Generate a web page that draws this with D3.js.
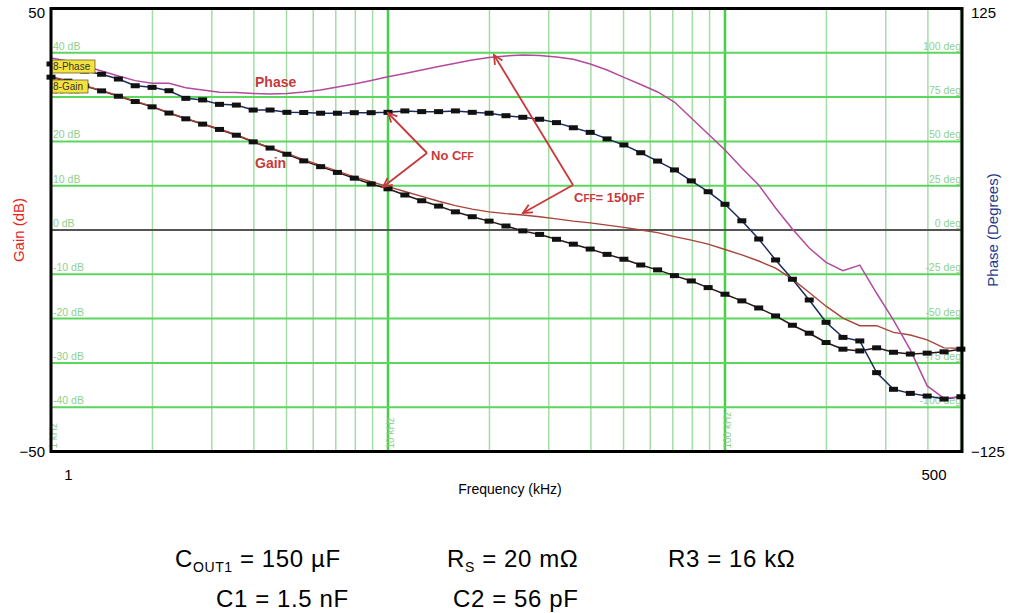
<!DOCTYPE html>
<html>
<head>
<meta charset="utf-8">
<script src="https://cdn.jsdelivr.net/npm/d3@7"></script>
<style>
  body { margin: 0; background: #fff; }
  text { font-family: "Liberation Sans", Arial, sans-serif; }
</style>
</head>
<body>
<div id="chart"></div>
<script>
// frequency points (kHz), 20 per decade
let freqs = [1.000, 1.122, 1.259, 1.413, 1.585, 1.778, 1.995, 2.239, 2.512, 2.818,
  3.162, 3.548, 3.981, 4.467, 5.012, 5.623, 6.310, 7.079, 7.943, 8.913,
  10.00, 11.22, 12.59, 14.13, 15.85, 17.78, 19.95, 22.39, 25.12, 28.18,
  31.62, 35.48, 39.81, 44.67, 50.12, 56.23, 63.10, 70.79, 79.43, 89.13,
  100.0, 112.2, 125.9, 141.3, 158.5, 177.8, 199.5, 223.9, 251.2, 281.8,
  316.2, 354.8, 398.1, 446.7, 501.2];

// gain (dB), no CFF
let gainNoCff = [34.5, 33.6, 32.5, 31.4, 30.2, 29.0, 27.8, 26.4, 25.1, 23.9,
  22.7, 21.4, 19.9, 18.5, 17.1, 15.6, 14.3, 13.0, 11.7, 10.4,
  9.3, 7.9, 6.6, 5.4, 4.1, 3.0, 2.0, 0.9, -0.2, -1.0,
  -2.1, -3.2, -4.3, -5.5, -6.6, -7.9, -9.0, -10.3, -11.5, -13.0,
  -14.5, -16.0, -17.6, -19.4, -21.5, -23.3, -25.4, -26.9, -27.3, -26.6,
  -27.6, -28.0, -27.8, -27.5, -26.9];

// phase (deg), no CFF
let phaseNoCff = [93.7, 92.0, 89.7, 87.9, 85.2, 81.4, 80.5, 78.6, 74.3, 73.4,
  70.9, 70.5, 67.7, 67.7, 66.4, 66.3, 65.9, 65.9, 66.2, 66.2,
  66.4, 67.2, 66.8, 66.8, 67.2, 66.4, 65.9, 64.5, 63.6, 62.5,
  60.6, 57.7, 55.1, 51.4, 48.0, 43.6, 38.9, 33.9, 27.7, 21.6,
  14.5, 5.2, -5.1, -16.9, -27.8, -39.5, -52.1, -60.6, -62.6, -80.5,
  -89.9, -92.2, -93.7, -95.4, -94.1];

// gain (dB), CFF = 150 pF
let gainCff = [34.6, 33.7, 32.6, 31.5, 30.3, 29.1, 27.9, 26.5, 25.2, 24.0,
  22.8, 21.5, 20.0, 18.6, 17.3, 15.9, 14.6, 13.3, 12.0, 10.9,
  9.8, 8.7, 7.6, 6.5, 5.5, 4.7, 4.1, 3.7, 3.4, 3.0,
  2.5, 2.0, 1.6, 1.1, 0.6, 0.0, -0.6, -1.5, -2.3, -3.2,
  -4.4, -5.6, -7.0, -8.6, -11.1, -14.1, -17.2, -19.9, -21.6, -21.6,
  -23.1, -23.7, -24.8, -26.6, -26.7];

// phase (deg), CFF = 150 pF
let phaseCff = [97.1, 95.4, 92.6, 89.7, 86.9, 84.3, 82.8, 82.8, 80.3, 79.0,
  77.7, 77.6, 77.1, 76.7, 77.1, 77.9, 79.0, 80.7, 82.4, 84.4,
  86.5, 88.3, 90.3, 92.3, 94.1, 95.9, 97.3, 98.2, 98.8, 98.5,
  97.6, 96.3, 93.7, 90.3, 86.1, 82.1, 77.9, 72.2, 63.2, 54.2,
  45.1, 35.0, 25.4, 12.4, 0.6, -10.2, -18.3, -23.0, -19.8, -35.7,
  -50.8, -67.7, -88.0, -95.0, -94.1];

let gainTicks = [-40, -30, -20, -10, 0, 10, 20, 30, 40];
let phaseTicks = [-100, -75, -50, -25, 0, 25, 50, 75, 100];
let decadeLabels = [[1, "1 kHz"], [10, "10 kHz"], [100, "100 kHz"]];

let width = 1011, height = 613;
let pLeft = 51, pRight = 962, pTop = 8.5, pBottom = 451.5;

let svg = d3.select("#chart").append("svg")
  .attr("width", width)
  .attr("height", height);

let x = d3.scaleLog().domain([1, 505]).range([pLeft, pRight]);
let yGain = d3.scaleLinear().domain([-50, 50]).range([pBottom, pTop]);
let yPhase = d3.scaleLinear().domain([-125, 125]).range([pBottom, pTop]);

let grid = svg.append("g");

// vertical grid, 1-9 per decade
let minor = [];
[1, 10, 100].forEach(d => { for (let i = 2; i <= 9; i++) if (d * i < 505) minor.push(d * i); });
grid.selectAll(".vminor")
  .data(minor.filter(d => d != 10 && d != 100))
  .enter().append("line")
  .attr("x1", d => x(d)).attr("x2", d => x(d))
  .attr("y1", pTop).attr("y2", pBottom)
  .attr("stroke", "#a4dda4")
  .attr("stroke-width", 1.5);

grid.selectAll(".vmajor")
  .data([10, 100])
  .enter().append("line")
  .attr("x1", d => x(d)).attr("x2", d => x(d))
  .attr("y1", pTop).attr("y2", pBottom)
  .attr("stroke", "#48cf48")
  .attr("stroke-width", 2.5);

// horizontal grid
grid.selectAll(".hline")
  .data(gainTicks)
  .enter().append("line")
  .attr("x1", pLeft).attr("x2", pRight)
  .attr("y1", d => yGain(d)).attr("y2", d => yGain(d))
  .attr("stroke", d => d == 0 ? "#555" : "#5cd65c")
  .attr("stroke-width", 2);

// in-plot grid labels
grid.selectAll(".dblab")
  .data(gainTicks)
  .enter().append("text")
  .attr("x", pLeft + 2)
  .attr("y", d => yGain(d) - 3)
  .attr("fill", "#8fd08f")
  .style("font-size", "10.5px")
  .text(d => d + " dB");

grid.selectAll(".deglab")
  .data(phaseTicks)
  .enter().append("text")
  .attr("x", pRight - 1)
  .attr("y", d => yPhase(d) - 3)
  .attr("fill", "#8fd08f")
  .style("font-size", "10.5px")
  .style("text-anchor", "end")
  .text(d => d + " deg");

grid.selectAll(".khz")
  .data(decadeLabels)
  .enter().append("text")
  .attr("transform", d => "translate(" + (x(d[0]) + 6) + "," + (pBottom - 3) + ") rotate(-90)")
  .attr("fill", "#8fd08f")
  .style("font-size", "10px")
  .text(d => d[1]);

// curves
let lineGain = d3.line().x((d, i) => x(freqs[i])).y(d => yGain(d));
let linePhase = d3.line().x((d, i) => x(freqs[i])).y(d => yPhase(d));

let curves = svg.append("g").attr("fill", "none");

curves.append("path")
  .attr("d", lineGain(gainNoCff))
  .attr("stroke", "#2a1616")
  .attr("stroke-width", 1.5);

curves.append("path")
  .attr("d", linePhase(phaseNoCff))
  .attr("stroke", "#1c2a5c")
  .attr("stroke-width", 1.5);

curves.append("path")
  .attr("d", lineGain(gainCff))
  .attr("stroke", "#a8443a")
  .attr("stroke-width", 1.4);

curves.append("path")
  .attr("d", linePhase(phaseCff))
  .attr("stroke", "#b24a9e")
  .attr("stroke-width", 1.5);

let markers = svg.append("g").attr("fill", "#111");

markers.selectAll(".mg")
  .data(gainNoCff)
  .enter().append("rect")
  .attr("x", (d, i) => x(freqs[i]) - 4.5)
  .attr("y", d => yGain(d) - 2.5)
  .attr("width", 9).attr("height", 5);

markers.selectAll(".mp")
  .data(phaseNoCff)
  .enter().append("rect")
  .attr("x", (d, i) => x(freqs[i]) - 4.5)
  .attr("y", d => yPhase(d) - 2.5)
  .attr("width", 9).attr("height", 5);

// trace tags
let tags = svg.append("g");
[["8-Phase", 60, 43], ["8-Gain", 80, 36]].forEach(t => {
  tags.append("rect")
    .attr("x", pLeft + 1).attr("y", t[1])
    .attr("width", t[2]).attr("height", 13)
    .attr("fill", "#f3e33c")
    .attr("stroke", "#6a6030")
    .attr("stroke-width", 0.8);
  tags.append("text")
    .attr("x", pLeft + 2).attr("y", t[1] + 10)
    .style("font-size", "10px")
    .attr("fill", "#333")
    .text(t[0]);
});

// annotations
let red = "#c8393b";
let ann = svg.append("g");

ann.append("text").attr("x", 255).attr("y", 87)
  .attr("fill", red).style("font-size", "14px").style("font-weight", "bold").text("Phase");
ann.append("text").attr("x", 255).attr("y", 168)
  .attr("fill", red).style("font-size", "14px").style("font-weight", "bold").text("Gain");

let noCff = ann.append("text").attr("x", 431).attr("y", 160)
  .attr("fill", red).style("font-size", "13px").style("font-weight", "bold");
noCff.append("tspan").text("No C");
noCff.append("tspan").style("font-size", "10px").text("FF");

let cff = ann.append("text").attr("x", 574).attr("y", 202)
  .attr("fill", red).style("font-size", "13px").style("font-weight", "bold");
cff.append("tspan").text("C");
cff.append("tspan").style("font-size", "10px").text("FF");
cff.append("tspan").text("= 150pF");

function arrow(x0, y0, x1, y1) {
  ann.append("line")
    .attr("x1", x0).attr("y1", y0).attr("x2", x1).attr("y2", y1)
    .attr("stroke", red).attr("stroke-width", 1.8);
  let a = Math.atan2(y1 - y0, x1 - x0), L = 10, s = 0.45;
  ann.append("path")
    .attr("d", "M" + (x1 - L * Math.cos(a - s)) + "," + (y1 - L * Math.sin(a - s)) +
      "L" + x1 + "," + y1 +
      "L" + (x1 - L * Math.cos(a + s)) + "," + (y1 - L * Math.sin(a + s)))
    .attr("fill", "none").attr("stroke", red).attr("stroke-width", 1.8);
}
arrow(427, 153, 388, 113);
arrow(427, 153, 383, 187);
arrow(573, 185, 494, 55);
arrow(573, 185, 523, 213);

// frame
svg.append("rect")
  .attr("x", pLeft).attr("y", pTop)
  .attr("width", pRight - pLeft).attr("height", pBottom - pTop)
  .attr("fill", "none").attr("stroke", "#000").attr("stroke-width", 3);

// axes
let axL = svg.append("g").attr("transform", "translate(" + pLeft + ",0)")
  .call(d3.axisLeft(yGain).tickValues([-50, 50]).tickSize(0).tickPadding(6));
let axR = svg.append("g").attr("transform", "translate(" + pRight + ",0)")
  .call(d3.axisRight(yPhase).tickValues([-125, 125]).tickSize(0).tickPadding(9));
let axB = svg.append("g").attr("transform", "translate(0," + pBottom + ")")
  .call(d3.axisBottom(x).tickValues([1, 500]).tickFormat(d3.format("d")).tickSize(0).tickPadding(18));
[axL, axR, axB].forEach(a => {
  a.select(".domain").remove();
  a.selectAll("text").style("font-size", "15px").style("font-family", "Liberation Sans, Arial, sans-serif").attr("fill", "#000");
});
axB.selectAll("text").attr("dx", d => d == 1 ? 17 : -27);
axL.selectAll("text").attr("dy", d => d == 50 ? "0.6em" : "0.3em");
axR.selectAll("text").attr("dy", d => d == 125 ? "0.6em" : "0.3em");

svg.append("text")
  .attr("transform", "translate(24," + yGain(0) + ") rotate(-90)")
  .style("text-anchor", "middle").style("font-size", "15px")
  .attr("fill", "#e8231e").text("Gain (dB)");

svg.append("text")
  .attr("transform", "translate(998," + yGain(0) + ") rotate(-90)")
  .style("text-anchor", "middle").style("font-size", "15px")
  .attr("fill", "#1f3b8c").text("Phase (Degrees)");

svg.append("text")
  .attr("x", 510).attr("y", 494)
  .style("text-anchor", "middle").style("font-size", "14px")
  .text("Frequency (kHz)");

// component values
let notes = svg.append("g").style("font-size", "24px").style("letter-spacing", "0.6px").attr("fill", "#000");
let t1 = notes.append("text").attr("x", 175).attr("y", 567);
t1.append("tspan").text("C");
t1.append("tspan").style("font-size", "14px").attr("dy", 5).text("OUT1");
t1.append("tspan").attr("dy", -5).text(" = 150 µF");

let t2 = notes.append("text").attr("x", 447).attr("y", 567);
t2.append("tspan").text("R");
t2.append("tspan").style("font-size", "14px").attr("dy", 5).text("S");
t2.append("tspan").attr("dy", -5).text(" = 20 mΩ");

notes.append("text").attr("x", 668).attr("y", 567).text("R3 = 16 kΩ");
notes.append("text").attr("x", 216).attr("y", 607).text("C1 = 1.5 nF");
notes.append("text").attr("x", 453).attr("y", 607).text("C2 = 56 pF");
</script>
</body>
</html>
